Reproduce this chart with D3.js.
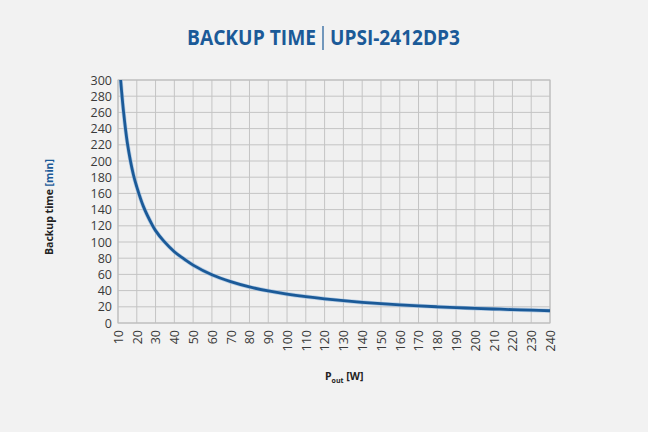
<!DOCTYPE html>
<html>
<head>
<meta charset="utf-8">
<style>
  html, body { margin: 0; padding: 0; background: #f2f2f2; }
  svg { display: block; }
</style>
<script src="https://cdn.jsdelivr.net/npm/d3@7"></script>
</head>
<body>
<svg id="chart"></svg>
<script>
// values
let power = [11.4, 12.9, 15, 18.2, 20, 23.5, 28, 30, 34.4, 40, 45.5, 50, 60, 70, 80, 90, 100, 110, 120, 130, 140, 150, 160, 170, 180, 190, 200, 210, 220, 230, 240]
let backupTime = [300, 262, 222, 183, 168, 144, 122, 114, 101, 88, 78.5, 71.5, 59.5, 51, 44.5, 39.6, 35.7, 32.5, 29.8, 27.5, 25.5, 23.8, 22.4, 21.1, 20, 19, 18.1, 17.3, 16.5, 15.8, 15.1]
let xTicks = d3.range(10, 241, 10)
let yTicks = d3.range(0, 301, 20)

let width = 648, height = 432
let margin = { top: 80, right: 98, bottom: 109, left: 118 }
let bodyWidth = width - margin.left - margin.right
let bodyHeight = height - margin.top - margin.bottom

let blue = "#1b5a98"
let font = "'Open Sans', sans-serif"

let svg = d3.select("#chart").attr("width", width).attr("height", height)

// title
let title = svg.append("g").attr("font-family", font).attr("font-weight", "bold")
  .attr("font-size", 21).attr("fill", blue)
title.append("text").attr("x", 187).attr("y", 45).attr("textLength", 129)
  .attr("lengthAdjust", "spacingAndGlyphs").text("BACKUP TIME")
title.append("line").attr("x1", 323).attr("x2", 323).attr("y1", 26).attr("y2", 50)
  .attr("stroke", blue).attr("stroke-width", 1.2)
title.append("text").attr("x", 330).attr("y", 45).attr("textLength", 130)
  .attr("lengthAdjust", "spacingAndGlyphs").text("UPSI-2412DP3")

let xScale = d3.scaleLinear().domain([10, 240]).range([0, bodyWidth])
let yScale = d3.scaleLinear().domain([0, 300]).range([bodyHeight, 0])

let body = svg.append("g").attr("transform", `translate(${margin.left},${margin.top})`)

body.append("rect").attr("width", bodyWidth).attr("height", bodyHeight).attr("fill", "#f0f0f0")

// grid
body.append("g").selectAll("line").data(xTicks).enter().append("line")
  .attr("x1", d => xScale(d)).attr("x2", d => xScale(d))
  .attr("y1", 0).attr("y2", bodyHeight)
  .attr("stroke", "#c4c4c4").attr("stroke-width", 1)
body.append("g").selectAll("line").data(yTicks).enter().append("line")
  .attr("x1", 0).attr("x2", bodyWidth)
  .attr("y1", d => yScale(d)).attr("y2", d => yScale(d))
  .attr("stroke", "#c4c4c4").attr("stroke-width", 1)
body.append("rect").attr("width", bodyWidth).attr("height", bodyHeight)
  .attr("fill", "none").attr("stroke", "#bcbcbc")

// axes
let axisY = d3.axisLeft(yScale).tickValues(yTicks).tickSize(0).tickPadding(6)
let gy = body.append("g").call(axisY)
gy.select(".domain").remove()
gy.selectAll("text").attr("font-family", font).attr("font-size", 12.5).attr("fill", "#3a3a3a")

let axisX = d3.axisBottom(xScale).tickValues(xTicks).tickSize(0).tickPadding(0)
let gx = body.append("g").attr("transform", `translate(0,${bodyHeight})`).call(axisX)
gx.select(".domain").remove()
gx.selectAll("text")
  .attr("font-family", font).attr("font-size", 12.5).attr("fill", "#3a3a3a")
  .attr("transform", "rotate(-90)")
  .attr("text-anchor", "end")
  .attr("x", -7).attr("y", 0).attr("dy", "0.35em")

// curve
let points = power.map((p, i) => [p, backupTime[i]])
let line = d3.line().x(d => xScale(d[0])).y(d => yScale(d[1])).curve(d3.curveCatmullRom.alpha(0.5))
body.append("path").datum(points).attr("d", line)
  .attr("fill", "none").attr("stroke", "#8fb6dd").attr("stroke-width", 4.2).attr("opacity", 0.6)
body.append("path").datum(points).attr("d", line)
  .attr("fill", "none").attr("stroke", blue).attr("stroke-width", 2.8)

// axis titles
let yTitle = svg.append("text")
  .attr("transform", "translate(53,207) rotate(-90)")
  .attr("text-anchor", "middle")
  .attr("font-family", font).attr("font-weight", "bold").attr("font-size", 10.5).attr("fill", "#222")
yTitle.append("tspan").text("Backup time ")
yTitle.append("tspan").attr("fill", blue).text("[min]")

let xTitle = svg.append("text").attr("x", 325).attr("y", 380)
  .attr("font-family", font).attr("font-weight", "bold").attr("font-size", 10.5).attr("fill", "#222")
xTitle.append("tspan").text("P")
xTitle.append("tspan").attr("font-size", 7).attr("dy", 3).text("out")
xTitle.append("tspan").attr("dy", -3).text(" [W]")
</script>
</body>
</html>
